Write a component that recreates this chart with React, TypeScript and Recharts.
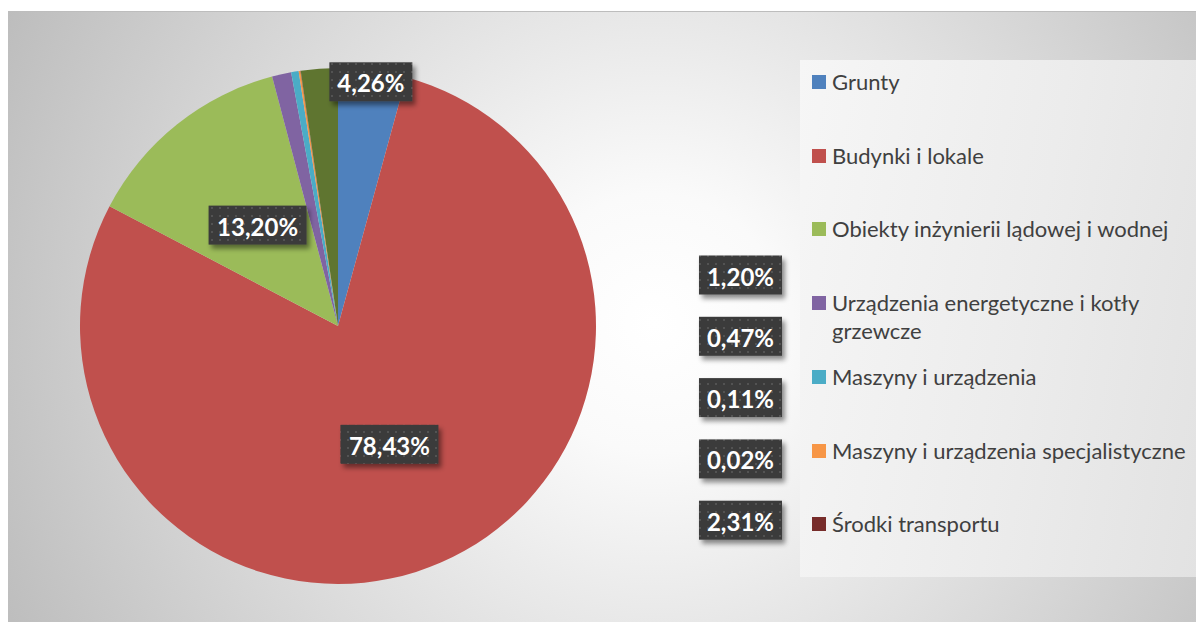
import React from 'react';
import { PieChart, Pie, Cell, Legend } from 'recharts';

const categories = [
  'Grunty',
  'Budynki i lokale',
  'Obiekty inżynierii lądowej i wodnej',
  'Urządzenia energetyczne i kotły grzewcze',
  'Maszyny i urządzenia',
  'Maszyny i urządzenia specjalistyczne',
  'Środki transportu',
  '',
];
const values = [4.26, 78.43, 13.2, 1.2, 0.47, 0.11, 0.02, 2.31];
const colors = ['#4F81BD', '#C0504D', '#9BBB59', '#8064A2', '#4BACC6', '#F79646', '#772C2A', '#5F7530'];

const data = categories.map((name, i) => ({ name, value: values[i] }));

const FONT = 'Lato, "Open Sans", sans-serif';
const RAD = Math.PI / 180;

const renderLabel = (p: any) => {
  const { cx, cy, midAngle, outerRadius, index, value } = p;
  const text = Number(value).toFixed(2).replace('.', ',') + '%';
  let x: number;
  let y: number;
  if (index < 3) {
    const f = index === 0 ? 0.955 : 0.5;
    x = cx + outerRadius * f * Math.cos(-midAngle * RAD);
    y = cy + outerRadius * f * Math.sin(-midAngle * RAD);
  } else {
    x = cx + outerRadius * 1.56;
    y = cy - 51 + (index - 3) * 61.3;
  }
  const w = text.length * 15 + 8;
  const h = 39;
  return (
    <g key={`lbl-${index}`}>
      <rect x={x - w / 2} y={y - h / 2} width={w} height={h} fill="url(#dotsPattern)" filter="url(#lblShadow)" />
      <text
        x={x}
        y={y + 1}
        textAnchor="middle"
        dominantBaseline="central"
        fill="#ffffff"
        fontFamily={FONT}
        fontWeight={700}
        fontSize={24}
      >
        {text}
      </text>
    </g>
  );
};

const renderLegend = (props: any) => {
  const payload = (props.payload || [])
    .filter((e: any) => e.value)
    .slice()
    .sort((a: any, b: any) => categories.indexOf(a.value) - categories.indexOf(b.value));
  return (
    <div
      style={{
        position: 'relative',
        width: 400,
        height: 517,
        background: 'linear-gradient(100deg, #f6f6f6 0%, #ececec 55%, #e2e2e2 100%)',
        fontFamily: FONT,
      }}
    >
      {payload.map((e: any, i: number) => (
        <div
          key={`leg-${i}`}
          style={{
            position: 'absolute',
            left: 12,
            top: 22 + i * 73.7 - 14,
            display: 'flex',
            alignItems: 'flex-start',
          }}
        >
          <div style={{ width: 14, height: 14, background: e.color, marginTop: 7, marginRight: 6, flex: 'none' }} />
          <div style={{ fontSize: 22, lineHeight: '28px', color: '#404040', maxWidth: 362 }}>{e.value}</div>
        </div>
      ))}
    </div>
  );
};

export default function App() {
  return (
    <>
      <style>{'html,body{overflow:hidden}'}</style>
      <svg width={0} height={0} style={{ position: 'absolute' }}>
        <defs>
          <pattern id="dotsPattern" width={8} height={8} patternUnits="userSpaceOnUse">
            <rect width={8} height={8} fill="#3a3a3a" />
            <rect x={3} y={3} width={2} height={2} fill="#525252" />
          </pattern>
          <filter id="lblShadow" x="-20%" y="-30%" width="150%" height="180%">
            <feDropShadow dx={3} dy={4} stdDeviation={2.5} floodColor="#000" floodOpacity={0.45} />
          </filter>
        </defs>
      </svg>
      <div
        style={{
          position: 'relative',
          width: 1196,
          height: 611,
          marginTop: 3,
          borderTop: '1px solid #bdbdbd',
          boxSizing: 'border-box',
          background:
            'radial-gradient(circle farthest-corner at 54% 51%, #ffffff 0%, #fafafa 18%, #bdbdbd 100%)',
        }}
      >
        <PieChart width={1196} height={610} margin={{ top: 0, right: 0, bottom: 0, left: 0 }}>
          <Pie
            data={data}
            dataKey="value"
            nameKey="name"
            cx={330}
            cy={314}
            outerRadius={258}
            startAngle={90}
            endAngle={-270}
            stroke="none"
            label={renderLabel}
            labelLine={false}
            isAnimationActive={false}
          >
            {data.map((d, i) => (
              <Cell key={`c-${i}`} fill={colors[i]} />
            ))}
          </Pie>
          <Legend
            content={renderLegend}
            wrapperStyle={{ position: 'absolute', left: 792, top: 48, width: 400, height: 517 }}
          />
        </PieChart>
      </div>
    </>
  );
}
